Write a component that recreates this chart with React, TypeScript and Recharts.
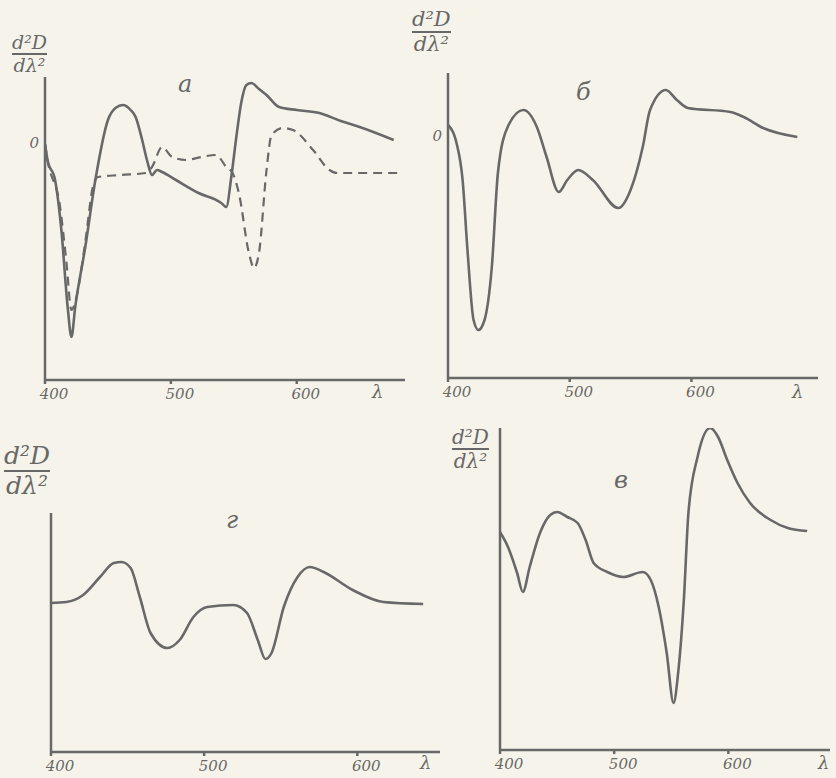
import { Line, LineChart, XAxis, YAxis } from "recharts";

const INK = "#686868";
const PAPER = "#f6f4ea";
const SERIF = "'DejaVu Serif', serif";

const X_TICKS = [400, 500, 600];

// panel а: solid curve
const lamA = [400, 402, 408, 413, 418, 421, 424, 432, 440, 450, 456, 462, 468, 472, 477, 481, 485, 489, 493, 504, 522, 540, 544, 548, 552, 556, 560, 564, 570, 576, 586, 600, 618, 635, 650, 677];
const solidA = [0.3, -1.3, -3.3, -8.3, -16.0, -19.0, -16.0, -10.0, -3.3, 2.7, 3.9, 4.2, 3.7, 3.0, 0.8, -1.3, -2.8, -2.3, -2.5, -3.3, -4.6, -5.6, -6.0, -3.0, 1.0, 4.5, 6.2, 6.4, 5.8, 5.2, 4.0, 3.7, 3.4, 2.6, 2.0, 0.7];
// panel а: dashed curve
const lamADash = [400, 402, 412, 417, 421, 425, 432, 438, 442, 460, 480, 485, 493, 501, 512, 524, 536, 544, 549, 554, 562, 566, 570, 576, 580, 589, 597, 613, 626, 632, 680];
const dashA = [0.3, -1.3, -6.0, -11.5, -16.3, -15.0, -9.5, -4.0, -3.0, -2.8, -2.6, -2.0, 0, -1.0, -1.3, -1.0, -0.8, -2.0, -2.6, -4.6, -10.6, -12.1, -10.6, -2.3, 1.2, 1.9, 1.7, -0.3, -2.3, -2.6, -2.6];

// panel б
const lamB = [400, 407, 412, 416, 421, 425, 430, 436, 441, 449, 462, 473, 481, 491, 498, 507, 519, 540, 550, 560, 566, 579, 588, 597, 632, 643, 659, 687];
const valB = [1.5, -0.3, -4.0, -11.0, -18.0, -19.0, -18.0, -12.7, -3.3, 1.3, 3.0, 1.3, -1.7, -5.2, -4.0, -3.0, -4.0, -6.8, -5.0, -0.7, 3.0, 5.0, 4.0, 3.2, 2.8, 2.3, 1.2, 0.3];

// panel г
const lamG = [400, 410, 421, 432, 441, 446, 452, 458, 465, 476, 484, 493, 502, 519, 528, 535, 540, 544, 552, 561, 569, 578, 597, 617, 643];
const valG = [0, 0.1, 0.8, 2.6, 4.0, 4.1, 3.5, 0.6, -3.0, -4.5, -3.7, -1.4, -0.4, -0.2, -1.0, -3.7, -5.6, -5.0, -0.4, 2.6, 3.6, 3.1, 1.3, 0.1, -0.1];

// panel в
const lamV = [400, 407, 415, 420, 426, 435, 444, 450, 459, 468, 475, 482, 494, 508, 525, 532, 539, 546, 552, 556, 561, 565, 573, 584, 591, 599, 608, 619, 637, 652, 669];
const valV = [0, -1.5, -4.1, -6.0, -3.5, -0.1, 1.7, 2.0, 1.5, 0.9, -0.8, -3.1, -4.0, -4.5, -4.0, -4.8, -7.5, -12.1, -17.1, -14.1, -6.8, 1.9, 7.5, 10.4, 9.5, 7.2, 4.9, 2.9, 1.2, 0.4, 0.1];

const toPoints = (xs: number[], ys: number[]) => xs.map((x, i) => ({ x, y: ys[i] }));

function LambdaTick(props: any) {
  const { x, y, payload } = props;
  return (
    <text x={x + 9} y={y + 2} dy="0.71em" textAnchor="middle" fontFamily={SERIF} fontStyle="italic" fontSize={15} fill={INK}>
      {payload.value}
    </text>
  );
}

function ZeroTick(props: any) {
  const { x, y, payload } = props;
  return (
    <text x={x + 2} y={y - 4} dy="0.35em" textAnchor="end" fontFamily={SERIF} fontStyle="italic" fontSize={15} fill={INK}>
      {payload.value}
    </text>
  );
}

type Series = { points: { x: number; y: number }[]; dashed?: boolean };

type PanelProps = {
  x0: number;
  x1: number;
  yT: number;
  yB: number;
  xMax: number;
  yMin: number;
  yMax: number;
  zero?: boolean;
  series: Series[];
};

const ML = 30;
const MR = 12;
const MT = 6;
const MB = 30;

function Panel({ x0, x1, yT, yB, xMax, yMin, yMax, zero, series }: PanelProps) {
  return (
    <div style={{ position: "absolute", left: x0 - ML, top: yT - MT }}>
      <LineChart width={x1 - x0 + ML + MR} height={yB - yT + MT + MB} margin={{ top: MT, right: MR, left: 0, bottom: 0 }}>
        <XAxis
          type="number"
          dataKey="x"
          domain={[400, xMax]}
          ticks={X_TICKS}
          height={MB}
          stroke={INK}
          strokeWidth={2.5}
          tickSize={4}
          tick={<LambdaTick />}
          allowDataOverflow
        />
        <YAxis
          type="number"
          domain={[yMin, yMax]}
          width={ML}
          ticks={zero ? [0] : []}
          tickLine={false}
          tick={zero ? <ZeroTick /> : false}
          stroke={INK}
          strokeWidth={2.5}
          allowDataOverflow
        />
        {series.map((s, i) => (
          <Line
            key={i}
            data={s.points}
            dataKey="y"
            type="monotone"
            stroke={INK}
            strokeWidth={s.dashed ? 2.2 : 2.6}
            strokeDasharray={s.dashed ? "9 6" : undefined}
            dot={false}
            isAnimationActive={false}
          />
        ))}
      </LineChart>
    </div>
  );
}

function Fraction({ left, top, size }: { left: number; top: number; size: number }) {
  return (
    <div style={{ position: "absolute", left, top, fontFamily: SERIF, fontStyle: "italic", color: INK, fontSize: size, lineHeight: 1.1, textAlign: "center" }}>
      <div>d²D</div>
      <div style={{ borderTop: `2px solid ${INK}` }}>dλ²</div>
    </div>
  );
}

function Mark({ left, top, text, size = 16 }: { left: number; top: number; text: string; size?: number }) {
  return (
    <div style={{ position: "absolute", left, top, fontFamily: SERIF, fontStyle: "italic", color: INK, fontSize: size, lineHeight: 1 }}>
      {text}
    </div>
  );
}

export default function App() {
  return (
    <div style={{ position: "absolute", left: 0, top: 0, width: 836, height: 778, background: PAPER, overflow: "hidden" }}>
      <Panel
        x0={45}
        x1={405}
        yT={77}
        yB={380}
        xMax={686}
        yMin={-23.3}
        yMax={7.0}
        zero
        series={[{ points: toPoints(lamA, solidA) }, { points: toPoints(lamADash, dashA), dashed: true }]}
      />
      <Panel x0={448} x1={818} yT={73} yB={378} xMax={704} yMin={-23.8} yMax={6.7} zero series={[{ points: toPoints(lamB, valB) }]} />
      <Panel x0={51} x1={440} yT={513} yB={752} xMax={654} yMin={-14.9} yMax={9.0} series={[{ points: toPoints(lamG, valG) }]} />
      <Panel x0={500} x1={830} yT={428} yB={750} xMax={689} yMin={-21.8} yMax={10.4} series={[{ points: toPoints(lamV, valV) }]} />

      <Fraction left={12} top={32} size={19} />
      <Fraction left={412} top={8} size={21} />
      <Fraction left={4} top={442} size={25} />
      <Fraction left={452} top={426} size={20} />

      <Mark left={178} top={72} text="а" size={24} />
      <Mark left={576} top={80} text="б" size={24} />
      <Mark left={226} top={508} text="г" size={24} />
      <Mark left={614} top={468} text="в" size={24} />

      <Mark left={372} top={383} text="λ" size={18} />
      <Mark left={792} top={383} text="λ" size={18} />
      <Mark left={420} top={754} text="λ" size={18} />
      <Mark left={818} top={754} text="λ" size={18} />
    </div>
  );
}
